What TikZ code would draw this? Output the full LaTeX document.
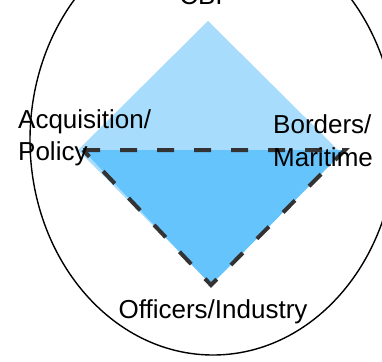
\documentclass[tikz,border=0pt]{standalone}
\usepackage{fontspec}
\setmainfont{Liberation Sans}
\usepackage{tikz}
\usetikzlibrary{positioning,calc}

\definecolor{lightsky}{RGB}{168,220,252}
\definecolor{darksky}{RGB}{102,196,252}
\definecolor{dashgray}{RGB}{51,51,51}

\begin{document}
\begin{tikzpicture}[
    x=1pt, y=-1pt,
    outer/.style={draw=black, line width=1.4pt},
    current/.style={fill=lightsky},
    target/.style={fill=darksky},
    bound/.style={draw=dashgray, line width=4pt, dash pattern=on 17pt off 20pt, line join=miter},
    lbl/.style={font=\fontsize{26}{33}\selectfont, inner sep=0pt, align=left}
]
    \useasboundingbox (0,0) rectangle (382,361);

    % Vertices of the current profile
    \coordinate (cbi) at (208,21);
    \coordinate (acq) at (78,150);
    \coordinate (off) at (210,283);
    \coordinate (bor) at (338,150);

    % Vertices of the target profile
    \coordinate (tacq) at (83,150);
    \coordinate (tbor) at (345,150);
    \coordinate (toff) at (211,285);

    % Current profile (light)
    \path[current] (cbi) -- (acq) -- (off) -- (bor) -- cycle;

    % Target profile (dark, dashed)
    \path[target] (tacq) -- (tbor) -- (toff) -- cycle;
    \draw[bound] (tacq) -- (tbor) -- (toff) -- cycle;

    % Outer ring
    \draw[outer] (213,140) ellipse (183 and 215);

    % Labels
    \node[lbl, anchor=base] (cbilabel) at (201,5) {CBI};
    \node[lbl, anchor=base west] (acqlabel) at (18,128) {Acquisition/};
    \node[lbl, anchor=base west] (pollabel) at (18,160) {Policy};
    \node[lbl, anchor=base west] (borlabel) at (273,133) {Borders/};
    \node[lbl, anchor=base west] (marlabel) at (273,166) {Maritime};
    \node[lbl, anchor=base] (offlabel) at (213,318) {Officers/Industry};
\end{tikzpicture}
\end{document}
